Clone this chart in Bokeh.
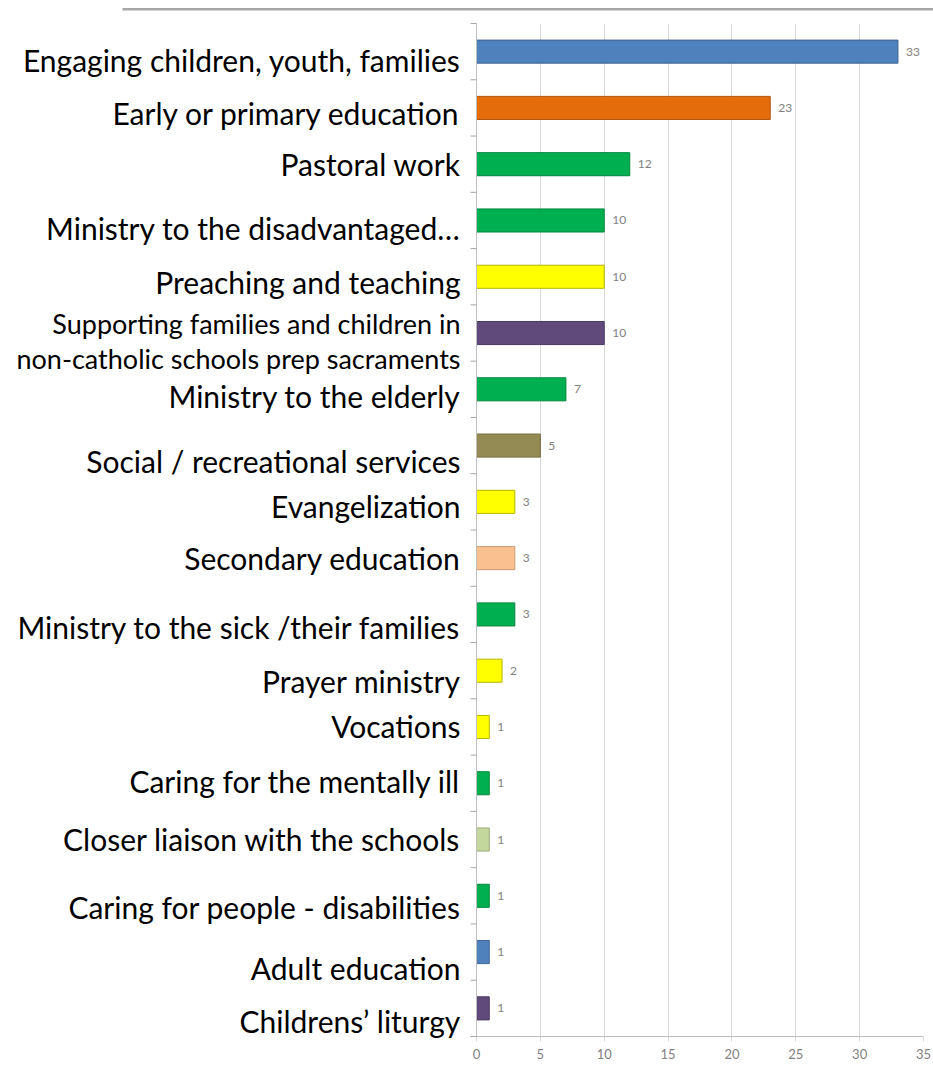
import math
from bokeh.plotting import figure
from bokeh.models import Range1d, FixedTicker, ColumnDataSource
from bokeh.core.properties import value
from bokeh.embed import file_html
from bokeh.resources import INLINE

# ---- data ----
categories = [
    "Engaging children, youth, families",
    "Early or primary education",
    "Pastoral work",
    "Ministry to the disadvantaged\u2026",
    "Preaching and teaching",
    "Supporting families and children in\nnon-catholic schools prep sacraments",
    "Ministry to the elderly",
    "Social / recreational services",
    "Evangelization",
    "Secondary education",
    "Ministry to the sick /their families",
    "Prayer ministry",
    "Vocations",
    "Caring for the mentally ill",
    "Closer liaison with the schools",
    "Caring for people - disabilities",
    "Adult education",
    "Childrens\u2019 liturgy",
]
values = [33, 23, 12, 10, 10, 10, 7, 5, 3, 3, 3, 2, 1, 1, 1, 1, 1, 1]
x_ticks = [0, 5, 10, 15, 20, 25, 30, 35]

# ---- styles ----
fill_colors = ["#4F81BD", "#E46C0A", "#00B050", "#00B050", "#FFFF00", "#604A7B",
               "#00B050", "#948A54", "#FFFF00", "#FAC090", "#00B050", "#FFFF00",
               "#FFFF00", "#00B050", "#C3D69B", "#00B050", "#4F81BD", "#604A7B"]
line_colors = ["#3B6496", "#B0540A", "#00873D", "#00873D", "#B5B500", "#4A395F",
               "#00873D", "#746C40", "#B5B500", "#C99A72", "#00873D", "#B5B500",
               "#B5B500", "#00873D", "#9AAA78", "#00873D", "#3B6496", "#4A395F"]
# vertical pixel nudge of each category label relative to its bar
label_dy = [8, 5, 0, 8, 5, 8, 7, 15, 4, 0, 13, 10, -1, -2, -1, 11, 16, 13]

# ---- layout (pixels) ----
W, H = 933, 1083
LEFT, RIGHT, TOP, BOTTOM = 476, 10, 23, 47
X0, X1 = 0, 35

n = len(categories)
pos = list(range(1, n + 1))
boundaries = [v - 0.5 for v in pos] + [n + 0.5]

src = ColumnDataSource(dict(
    y=pos, v=values, vt=[str(v) for v in values], cat=categories,
    fill=fill_colors, line=line_colors, dy=label_dy,
    fs=["27px" if "\n" in c else "30px" for c in categories],
))

p = figure(width=W, height=H, output_backend="svg", toolbar_location=None,
           x_range=Range1d(X0, X1), y_range=Range1d(n + 0.5, 0.5),
           min_border_left=LEFT, min_border_right=RIGHT, min_border_top=TOP,
           min_border_bottom=BOTTOM)
p.outline_line_color = None
p.background_fill_color = "white"
p.border_fill_color = "white"

# x axis
p.xaxis.ticker = FixedTicker(ticks=x_ticks)
p.xaxis.axis_line_color = "#BFBFBF"
p.xaxis.major_tick_line_color = "#D9D9D9"
p.xaxis.major_tick_out = 5
p.xaxis.major_tick_in = 0
p.xaxis.minor_tick_line_color = None
p.xaxis.major_label_text_color = "#7F7F7F"
p.xaxis.major_label_text_font = "Lato"
p.xaxis.major_label_text_font_size = "13px"
p.xaxis.major_label_standoff = 7

# y axis: just the line; tick marks at category boundaries drawn below
p.yaxis.ticker = FixedTicker(ticks=[])
p.yaxis.axis_line_color = "#BFBFBF"
p.yaxis.minor_tick_line_color = None

p.xgrid.grid_line_color = "#D9D9D9"
p.ygrid.grid_line_color = None

ticks = p.ray(x=X0, y=boundaries, length=6, length_units="screen", angle=math.pi,
              line_color="#A6A6A6", line_width=1)
ticks.level = "overlay"

p.hbar(y="y", left=0, right="v", height=0.41, fill_color="fill",
       line_color="line", line_width=1, source=src)

p.text(x="v", y="y", text="vt", x_offset=8, text_baseline="middle",
       text_align="left", text_font=value("Lato"), text_font_size="12px",
       text_color="#7F7F7F", source=src)

lab = p.text(x=X0, y="y", text="cat", x_offset=-16, y_offset="dy",
             text_align="right", text_baseline="middle",
             text_font=value("Lato"), text_font_size="fs",
             text_line_height=1.05, text_color="#000000", source=src)
lab.level = "overlay"

# grey rule across the top of the page (page px 122..933 at y ~9),
# converted into data coordinates of this frame
ppx = (W - LEFT - RIGHT) / (X1 - X0)
ppy = (H - TOP - BOTTOM) / n
rule_x = X0 + ((122 + W) / 2 - LEFT) / ppx
rule_y = 0.5 - (TOP - 8.75) / ppy
rule = p.rect(x=[rule_x], y=[rule_y], width=W - 122, height=2.5,
              width_units="screen", height_units="screen",
              fill_color="#A6A6A6", line_color=None)
rule.level = "overlay"

open("out.html", "w").write(file_html(p, INLINE))
